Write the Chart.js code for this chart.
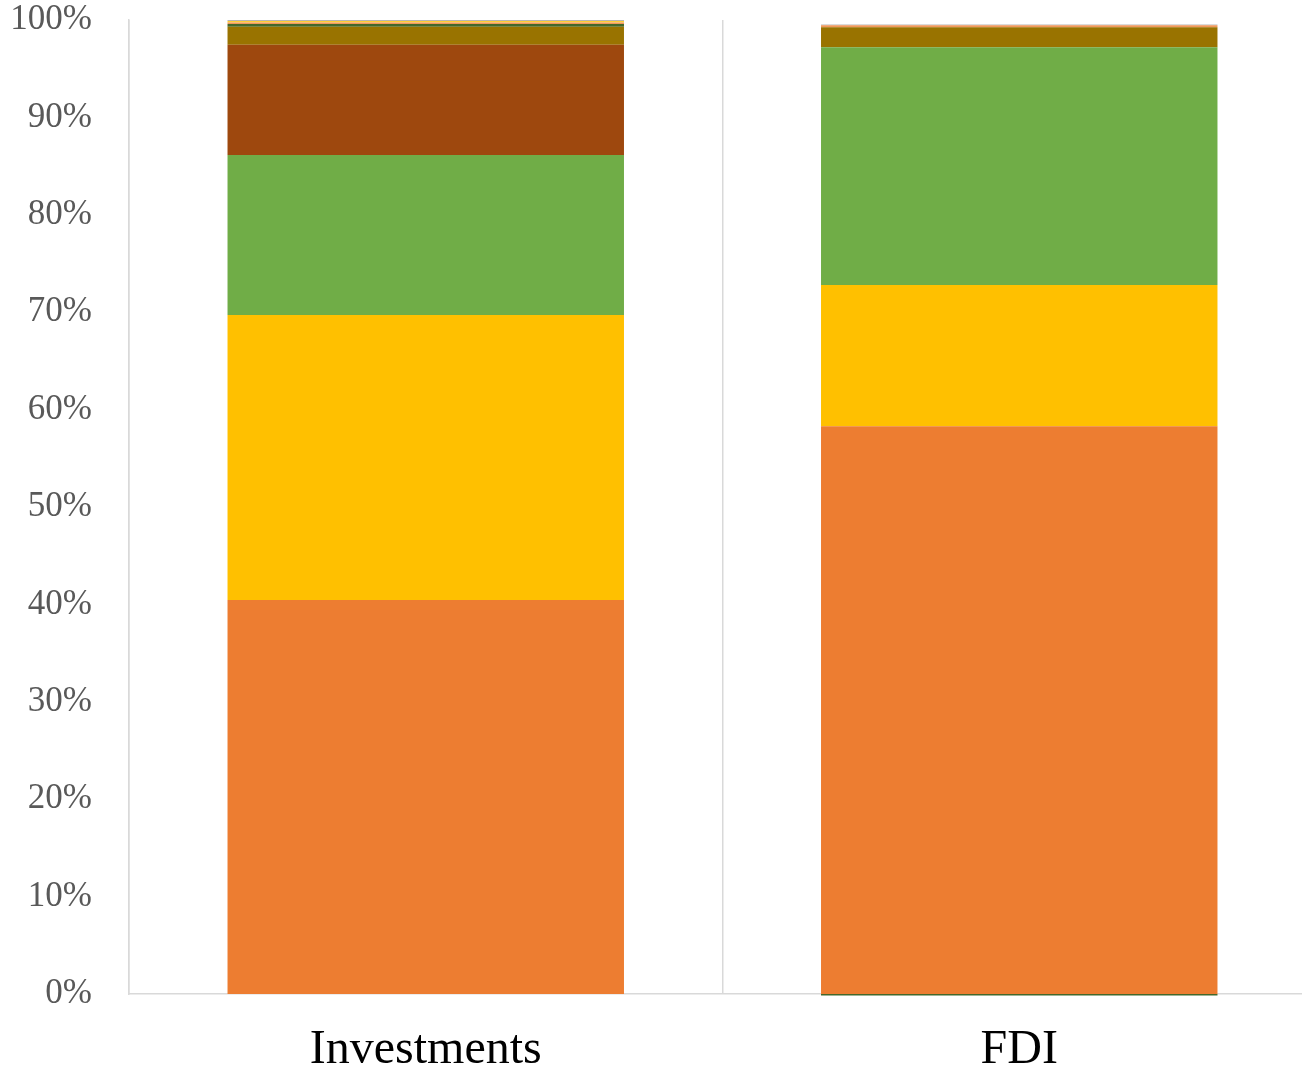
<!DOCTYPE html>
<html>
<head>
<meta charset="utf-8">
<script src="https://cdn.jsdelivr.net/npm/chart.js@4.4.1/dist/chart.umd.min.js"></script>
<style>
  html, body { margin: 0; padding: 0; background: #fff; overflow: hidden; }
  #wrap { width: 1316px; height: 1080px; }
</style>
</head>
<body>
<div id="wrap"><canvas id="shareChart"></canvas></div>
<script>
// categories and shares (percent of total)
const categories = ['Investments', 'FDI'];
const yTicks = [0, 10, 20, 30, 40, 50, 60, 70, 80, 90, 100];

const seriesNames = ['Series 2', 'Series 4', 'Series 6', 'Series 8', 'Series 10', 'Series 12', 'Series 14', 'Series 16', 'Series 15'];
const seriesColors = ['#ED7D31', '#FFC000', '#70AD47', '#9E480E', '#997300', '#43682B', '#F1975A', '#FFCD33', '#B7B7B7'];

const orangeShare = [40.45, 58.3];
const goldShare = [29.25, 14.5];
const greenShare = [16.45, 24.4];
const brownShare = [11.3, 0];
const darkGoldShare = [1.85, 2.05];
const darkGreenShare = [0.3, -0.15];
const lightOrangeShare = [0.15, 0.2];
const lightGoldShare = [0.15, 0];
const lightGrayShare = [0.1, 0.1];

const seriesValues = [orangeShare, goldShare, greenShare, brownShare, darkGoldShare,
                      darkGreenShare, lightOrangeShare, lightGoldShare, lightGrayShare];

const datasets = seriesValues.map((vals, i) => ({
    label: seriesNames[i],
    data: vals,
    backgroundColor: seriesColors[i],
    borderWidth: 0,
    barPercentage: 0.668,
    categoryPercentage: 1,
    clip: false
}));

const ctx = document.getElementById('shareChart').getContext('2d');
new Chart(ctx, {
    type: 'bar',
    data: { labels: categories, datasets: datasets },
    options: {
        responsive: true,
        maintainAspectRatio: false,
        animation: false,
        layout: { padding: 0 },
        plugins: {
            legend: { display: false },
            tooltip: { enabled: false }
        },
        scales: {
            x: {
                stacked: true,
                grid: { offset: true, color: '#d9d9d9', lineWidth: 1.5, drawTicks: false },
                border: { color: '#d9d9d9', width: 1.5 },
                ticks: {
                    color: '#000000',
                    padding: 28,
                    font: { family: 'Liberation Serif', size: 48 }
                },
                afterFit: s => { s.height = 86; }
            },
            y: {
                stacked: true,
                min: 0,
                max: 100,
                afterBuildTicks: s => { s.ticks = yTicks.map(v => ({ value: v })); },
                grid: { display: false },
                border: { color: '#d9d9d9', width: 1.5 },
                ticks: {
                    color: '#595959',
                    padding: 29,
                    font: { family: 'Liberation Serif', size: 35 },
                    callback: v => v + '%'
                },
                afterFit: s => {
                    s.width = 129;
                    s.paddingTop = 20;
                    s.paddingBottom = 0;
                }
            }
        }
    }
});
</script>
</body>
</html>
